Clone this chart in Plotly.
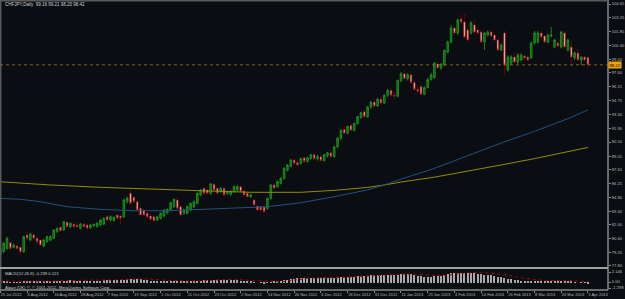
import plotly.graph_objects as go

# ---------------- data ----------------
tick_idx = [0, 8, 16, 24, 32, 40, 48, 56, 64, 72, 80, 88, 96, 104, 112, 120, 128, 136, 144, 152, 160, 168, 176]
tick_labels = ["25 Jul 2012", "6 Aug 2012", "16 Aug 2012", "28 Aug 2012", "7 Sep 2012", "19 Sep 2012",
               "1 Oct 2012", "11 Oct 2012", "23 Oct 2012", "2 Nov 2012", "14 Nov 2012", "26 Nov 2012",
               "6 Dec 2012", "18 Dec 2012", "31 Dec 2012", "11 Jan 2013", "23 Jan 2013", "4 Feb 2013",
               "14 Feb 2013", "26 Feb 2013", "8 Mar 2013", "20 Mar 2013", "1 Apr 2013"]

opens = [78.95, 79.26, 79.60, 80.19, 79.71, 79.84, 79.71, 79.26, 80.97, 80.46,
         80.97, 80.63, 80.46, 79.84, 80.29, 80.46, 80.63, 81.31, 81.76, 81.48,
         82.27, 81.83, 82.07, 82.00, 81.66, 82.07, 82.00, 81.72, 81.90, 81.83,
         82.00, 82.10, 82.85, 82.51, 82.44, 83.02, 82.92, 82.85, 84.39, 85.24,
         84.83, 84.39, 83.71, 83.53, 83.19, 82.92, 82.85, 82.51, 82.68, 82.92,
         83.26, 83.53, 83.88, 84.56, 83.88, 83.19, 83.19, 83.53, 83.88, 84.22,
         85.07, 85.76, 85.58, 85.24, 86.17, 85.76, 85.41, 85.76, 85.24, 85.14,
         85.41, 85.58, 85.93, 85.48, 85.24, 84.90, 84.56, 83.94, 83.88, 83.88,
         83.71, 84.73, 86.10, 85.93, 86.27, 86.78, 87.63, 87.98, 88.66, 88.40,
         88.30, 88.90, 88.50, 88.80, 89.20, 88.80, 89.00, 88.60, 89.10, 89.40,
         89.00, 90.00, 90.90, 91.80, 91.40, 92.20, 91.70, 92.40, 93.00, 93.60,
         93.10, 94.10, 94.60, 94.20, 94.90, 94.50, 95.30, 95.80, 95.30, 95.20,
         96.80, 97.50, 97.00, 97.40, 96.60, 95.90, 96.20, 95.40, 96.10, 96.90,
         97.10, 98.50, 98.10, 98.40, 99.73, 100.76, 102.19, 101.68, 103.11, 102.81,
         101.99, 101.68, 102.50, 101.99, 101.78, 100.76, 101.47, 101.78, 101.47, 100.96,
         99.93, 101.68, 97.89, 98.60, 99.22, 98.71, 98.91, 99.32, 99.22, 99.12,
         100.65, 100.76, 101.68, 101.37, 100.76, 101.37, 100.24, 100.65, 100.24, 101.68,
         99.93, 100.24, 99.12, 99.63, 98.91, 99.22, 99.16]
highs = [79.75, 80.25, 80.80, 80.35, 80.10, 80.00, 79.85, 80.90, 81.31, 81.20,
         81.15, 80.80, 80.55, 80.55, 80.90, 80.95, 81.55, 81.75, 81.90, 82.40,
         82.45, 82.25, 82.20, 82.15, 82.20, 82.25, 82.15, 82.10, 82.15, 82.30,
         82.60, 82.80, 83.00, 83.00, 82.90, 83.15, 83.05, 84.70, 84.90, 85.58,
         85.00, 84.55, 83.85, 83.70, 83.30, 83.10, 82.95, 82.95, 83.30, 83.60,
         83.70, 84.35, 84.70, 84.75, 84.00, 83.65, 84.00, 84.30, 84.50, 85.35,
         85.70, 85.90, 85.75, 86.30, 86.35, 85.90, 85.90, 85.95, 85.55, 85.60,
         86.05, 86.10, 86.10, 85.65, 85.40, 85.20, 84.70, 84.10, 84.00, 84.05,
         84.80, 86.20, 86.30, 86.55, 86.85, 87.90, 88.25, 88.75, 88.85, 88.60,
         88.90, 89.10, 89.00, 89.30, 89.40, 89.20, 89.20, 89.30, 89.50, 89.60,
         90.10, 91.00, 91.80, 92.10, 92.20, 92.40, 92.50, 93.20, 93.60, 93.80,
         94.20, 94.70, 94.90, 95.00, 95.20, 95.40, 95.90, 96.00, 95.60, 96.90,
         97.70, 97.90, 97.60, 97.60, 96.80, 96.30, 96.40, 96.20, 97.10, 97.60,
         98.70, 98.70, 98.60, 100.00, 100.90, 102.50, 102.40, 103.20, 103.63, 103.63,
         102.20, 102.90, 103.10, 102.20, 101.95, 101.80, 101.95, 101.95, 101.60, 101.10,
         100.60, 101.90, 99.40, 99.40, 99.73, 99.60, 99.60, 99.50, 99.40, 100.80,
         101.90, 101.90, 101.90, 101.50, 101.60, 102.29, 101.10, 100.90, 101.90, 101.90,
         101.10, 100.96, 99.80, 100.00, 99.32, 99.40, 99.21]
lows = [78.85, 79.15, 79.50, 79.50, 79.60, 79.50, 78.92, 79.15, 80.46, 80.35,
        80.50, 80.20, 79.85, 79.70, 80.20, 80.35, 80.55, 81.20, 81.30, 81.40,
        81.75, 81.70, 81.70, 81.70, 81.55, 81.75, 81.55, 81.60, 81.80, 81.75,
        81.90, 82.00, 82.40, 82.40, 82.35, 82.60, 82.00, 82.70, 84.20, 84.10,
        84.30, 83.40, 82.90, 82.95, 82.70, 82.45, 82.30, 82.40, 82.55, 82.80,
        83.10, 83.40, 83.75, 83.60, 82.90, 83.05, 83.10, 83.40, 83.75, 84.10,
        84.95, 85.10, 85.10, 85.10, 85.50, 85.10, 85.30, 84.95, 85.10, 85.00,
        85.30, 85.45, 85.30, 84.95, 84.80, 84.80, 83.95, 83.40, 83.35, 83.25,
        83.55, 84.60, 85.65, 85.80, 86.15, 86.65, 87.50, 87.90, 88.20, 88.00,
        88.20, 88.40, 88.40, 88.70, 88.70, 88.60, 88.50, 88.50, 88.90, 88.90,
        88.90, 89.90, 90.70, 91.30, 91.30, 91.60, 91.60, 92.30, 92.90, 93.00,
        93.00, 93.90, 94.00, 94.10, 94.30, 94.40, 95.10, 95.10, 94.90, 95.10,
        96.60, 96.90, 96.80, 96.50, 95.80, 95.50, 95.30, 95.30, 96.00, 96.80,
        97.00, 98.00, 97.90, 98.30, 99.60, 100.60, 101.50, 101.50, 102.60, 101.10,
        100.80, 101.50, 101.60, 101.50, 100.60, 99.93, 101.30, 101.20, 100.80, 99.80,
        99.80, 97.37, 97.70, 98.40, 98.60, 98.50, 98.80, 98.90, 98.70, 99.00,
        100.50, 100.60, 101.10, 100.60, 100.60, 101.20, 100.10, 100.20, 100.10, 100.10,
        99.80, 98.30, 98.90, 98.80, 98.40, 98.80, 98.20]
closes = [79.60, 80.12, 80.63, 79.60, 79.95, 79.60, 79.26, 80.80, 80.63, 81.07,
          80.63, 80.29, 79.95, 80.46, 80.80, 80.80, 81.48, 81.66, 81.42, 82.34,
          81.83, 82.17, 81.83, 81.83, 82.10, 81.83, 81.66, 82.00, 82.07, 82.17,
          82.51, 82.68, 82.51, 82.85, 82.78, 82.68, 82.68, 84.56, 84.73, 84.22,
          84.39, 83.53, 83.02, 83.02, 82.85, 82.58, 82.44, 82.85, 83.19, 83.53,
          83.60, 84.29, 84.63, 83.71, 83.02, 83.53, 83.88, 84.22, 84.39, 85.24,
          85.58, 85.24, 85.24, 86.20, 85.58, 85.24, 85.76, 85.07, 85.41, 85.48,
          85.93, 85.93, 85.41, 85.07, 84.90, 85.07, 84.05, 83.53, 83.53, 83.36,
          84.73, 86.10, 85.76, 86.44, 86.78, 87.81, 88.15, 88.66, 88.32, 88.15,
          88.80, 88.50, 88.90, 89.20, 88.80, 89.00, 88.60, 89.20, 89.40, 89.00,
          90.00, 90.90, 91.70, 91.40, 92.10, 91.70, 92.40, 93.10, 93.50, 93.10,
          94.10, 94.60, 94.20, 94.90, 94.50, 95.30, 95.80, 95.30, 95.20, 96.80,
          97.50, 97.00, 97.40, 96.60, 95.90, 95.70, 95.40, 96.10, 96.90, 97.37,
          98.60, 98.10, 98.50, 99.90, 100.76, 102.19, 101.68, 103.01, 102.81, 101.27,
          100.96, 102.70, 101.78, 101.68, 100.76, 101.68, 101.78, 101.37, 100.96, 99.93,
          100.45, 98.40, 99.22, 99.22, 98.71, 99.42, 99.42, 99.12, 98.91, 100.65,
          101.68, 101.68, 101.27, 100.76, 101.47, 101.47, 100.96, 100.35, 101.78, 100.24,
          100.96, 99.22, 99.63, 98.91, 99.22, 98.91, 98.42]

ma_blue_idx = [0, 6, 12, 20, 30, 40, 50, 60, 70, 80, 90, 100, 110, 115, 120, 130, 140, 150, 160, 170, 176]
ma_blue = [84.73, 84.63, 84.39, 83.87, 83.60, 83.46, 83.46, 83.60, 83.77, 83.87, 84.28,
           84.90, 85.60, 86.10, 86.70, 87.80, 89.10, 90.40, 91.60, 92.90, 93.80]
ma_olive_idx = [0, 6, 15, 30, 45, 60, 75, 90, 100, 110, 115, 120, 130, 140, 150, 160, 170, 176]
ma_olive = [86.43, 86.27, 86.10, 85.86, 85.66, 85.51, 85.35, 85.35, 85.55, 85.85, 86.10,
            86.40, 86.90, 87.50, 88.15, 88.80, 89.50, 89.95]

macd_main = [0.15, 0.12, 0.12, 0.10, 0.10, 0.08, 0.05, 0.12, 0.16, 0.20,
             0.22, 0.20, 0.15, 0.15, 0.17, 0.18, 0.25, 0.32, 0.35, 0.42,
             0.42, 0.44, 0.44, 0.43, 0.43, 0.42, 0.40, 0.40, 0.40, 0.40,
             0.43, 0.46, 0.48, 0.50, 0.50, 0.51, 0.50, 0.62, 0.72, 0.78,
             0.80, 0.76, 0.66, 0.56, 0.46, 0.36, 0.28, 0.22, 0.20, 0.20,
             0.21, 0.25, 0.30, 0.28, 0.20, 0.16, 0.16, 0.18, 0.22, 0.32,
             0.42, 0.46, 0.50, 0.58, 0.60, 0.58, 0.56, 0.52, 0.48, 0.45,
             0.44, 0.44, 0.40, 0.34, 0.26, 0.20, 0.10, 0.00, -0.06, -0.12,
             -0.08, 0.05, 0.12, 0.22, 0.32, 0.45, 0.60, 0.75, 0.84, 0.88,
             0.92, 0.92, 0.94, 0.96, 0.95, 0.94, 0.92, 0.92, 0.93, 0.92,
             0.96, 1.05, 1.16, 1.20, 1.24, 1.25, 1.28, 1.34, 1.40, 1.43,
             1.50, 1.56, 1.58, 1.62, 1.62, 1.66, 1.70, 1.68, 1.64, 1.70,
             1.78, 1.78, 1.78, 1.72, 1.60, 1.45, 1.32, 1.25, 1.25, 1.28,
             1.36, 1.42, 1.50, 1.62, 1.78, 1.96, 2.04, 2.10, 2.146, 2.10,
             2.02, 2.02, 1.96, 1.90, 1.78, 1.70, 1.62, 1.52, 1.42, 1.26,
             1.14, 0.92, 0.80, 0.70, 0.58, 0.50, 0.42, 0.34, 0.26, 0.28,
             0.34, 0.38, 0.40, 0.38, 0.38, 0.38, 0.32, 0.26, 0.28, 0.24,
             0.22, 0.12, 0.06, 0.00, -0.04, -0.10, -0.24]
signal_idx = list(range(0, 177, 4))
macd_signal = [0.20, 0.15, 0.12, 0.16, 0.19, 0.30, 0.40, 0.42, 0.43, 0.48,
               0.60, 0.66, 0.45, 0.26, 0.22, 0.24, 0.44, 0.54, 0.48, 0.34,
               0.12, 0.05, 0.40, 0.78, 0.92, 0.93, 1.02, 1.20, 1.40, 1.56,
               1.66, 1.72, 1.52, 1.34, 1.62, 2.00, 2.10, 1.86, 1.46, 0.92,
               0.48, 0.32, 0.34, 0.26, 0.12]

title_text = "CHFJPY,Daily  99.16 99.21 98.20 98.42"
macd_text = "MACD(12,26,9) -0.239 0.121"
copy_text = "Alpari (UK) ®, © 2001-2012, MetaQuotes Software Corp."
price_ticks = [104.65, 103.25, 101.85, 100.40, 99.00, 97.60, 96.15, 94.75, 93.30, 91.90,
               90.50, 89.05, 87.65, 86.25, 84.80, 83.40, 82.00, 80.60, 79.20, 77.80]
macd_ticks = [2.146, 0.0, -1.298]
macd_tick_text = ["2.146", "0.00", "-1.298"]

# ---------------- figure ----------------
W, H = 625, 299
BG = "#0a0e12"
AX = "#8a8a8a"
TXT = "#b8b8b8"
FONT = "Liberation Sans"
idx = list(range(len(closes)))


def px(x):
    return x / W


def py(y):
    return 1 - y / H


fig = go.Figure()

fig.add_trace(go.Scatter(x=ma_olive_idx, y=ma_olive, mode="lines",
                         line=dict(color="#8f8f00", width=1), hoverinfo="skip"))
fig.add_trace(go.Scatter(x=ma_blue_idx, y=ma_blue, mode="lines",
                         line=dict(color="#22507e", width=1), hoverinfo="skip"))

fig.add_trace(go.Candlestick(
    x=idx, open=opens, high=highs, low=lows, close=closes,
    increasing=dict(line=dict(color="#1f9c1f", width=0.8), fillcolor="#0d5e0d"),
    decreasing=dict(line=dict(color="#a00000", width=0.6), fillcolor="#ffc8c8"),
    whiskerwidth=0,
))

fig.add_trace(go.Bar(x=idx, y=macd_main, yaxis="y2", width=0.3,
                     marker=dict(color="#a8a8a8", line=dict(width=0))))
fig.add_trace(go.Scatter(x=signal_idx, y=macd_signal, yaxis="y2", mode="lines",
                         line=dict(color="#b00000", width=1, dash="dot")))

x_right = 608
fig.update_layout(
    template="none",
    width=W, height=H,
    margin=dict(l=0, r=0, t=0, b=0, pad=0),
    paper_bgcolor=BG, plot_bgcolor=BG,
    showlegend=False,
    font=dict(family=FONT, color=TXT, size=4.2),
    bargap=0,
    xaxis=dict(domain=[0, px(x_right)], range=[-0.09, 182.0], anchor="y2",
               tickvals=tick_idx, ticktext=tick_labels, ticks="outside", ticklen=2,
               tickcolor=AX, tickfont=dict(size=4, color=TXT, family=FONT),
               ticklabelposition="outside right", tickangle=0, automargin=False,
               showgrid=False, zeroline=False, showline=False,
               rangeslider=dict(visible=False)),
    yaxis=dict(domain=[py(268), py(1)], range=[77.59, 104.96], side="right", anchor="x",
               tickvals=price_ticks, ticktext=[f"{v:.2f}" for v in price_ticks],
               ticks="outside", ticklen=2, tickcolor=AX, automargin=False,
               tickfont=dict(size=4.1, color=TXT, family=FONT),
               showgrid=False, zeroline=False, showline=False),
    yaxis2=dict(domain=[py(290), py(268.5)], range=[-1.717, 2.897], side="right", anchor="x",
                tickvals=macd_ticks, ticktext=macd_tick_text, automargin=False,
                ticks="outside", ticklen=2, tickcolor=AX,
                tickfont=dict(size=4.1, color=TXT, family=FONT),
                showgrid=False, zeroline=False, showline=False),
)

shapes = []
line_style = dict(color=AX, width=1.5)
shapes.append(dict(type="line", xref="paper", yref="paper", x0=px(x_right), x1=px(x_right),
                   y0=py(0), y1=py(290), line=line_style))
shapes.append(dict(type="line", xref="paper", yref="paper", x0=0, x1=px(x_right),
                   y0=py(0.7), y1=py(0.7), line=dict(color="#5a5a5a", width=1.5)))
shapes.append(dict(type="line", xref="paper", yref="paper", x0=px(0.7), x1=px(0.7),
                   y0=py(0), y1=py(290), line=dict(color="#5a5a5a", width=1.5)))
shapes.append(dict(type="line", xref="paper", yref="paper", x0=0, x1=px(x_right),
                   y0=py(268), y1=py(268), line=dict(color="#a0a0a0", width=2)))
shapes.append(dict(type="line", xref="paper", yref="paper", x0=0, x1=px(x_right),
                   y0=py(290), y1=py(290), line=line_style))
# bid line at last close
shapes.append(dict(type="line", xref="paper", yref="y", x0=0, x1=px(x_right),
                   y0=closes[-1], y1=closes[-1],
                   line=dict(color="#8c6414", width=1, dash="dot")))
fig.update_layout(shapes=shapes)

fig.add_annotation(xref="paper", yref="y", x=px(x_right), y=closes[-1], text=f"{closes[-1]:.2f}",
                   showarrow=False, xanchor="left", yanchor="middle",
                   bgcolor="#f0a400", font=dict(size=4.2, color="#000000", family=FONT),
                   borderpad=0.5)
fig.add_annotation(xref="paper", yref="paper", x=px(3), y=py(4.5), text=title_text,
                   showarrow=False, xanchor="left", yanchor="middle",
                   font=dict(size=4.5, color="#d0d0d0", family=FONT))
fig.add_annotation(xref="paper", yref="paper", x=px(3), y=py(273), text=macd_text,
                   showarrow=False, xanchor="left", yanchor="middle",
                   font=dict(size=4.2, color="#d0d0d0", family=FONT))
fig.add_annotation(xref="paper", yref="paper", x=px(3), y=py(287.5), text=copy_text,
                   showarrow=False, xanchor="left", yanchor="middle",
                   font=dict(size=4.2, color="#d0d0d0", family=FONT))

fig.write_html("out.html")
